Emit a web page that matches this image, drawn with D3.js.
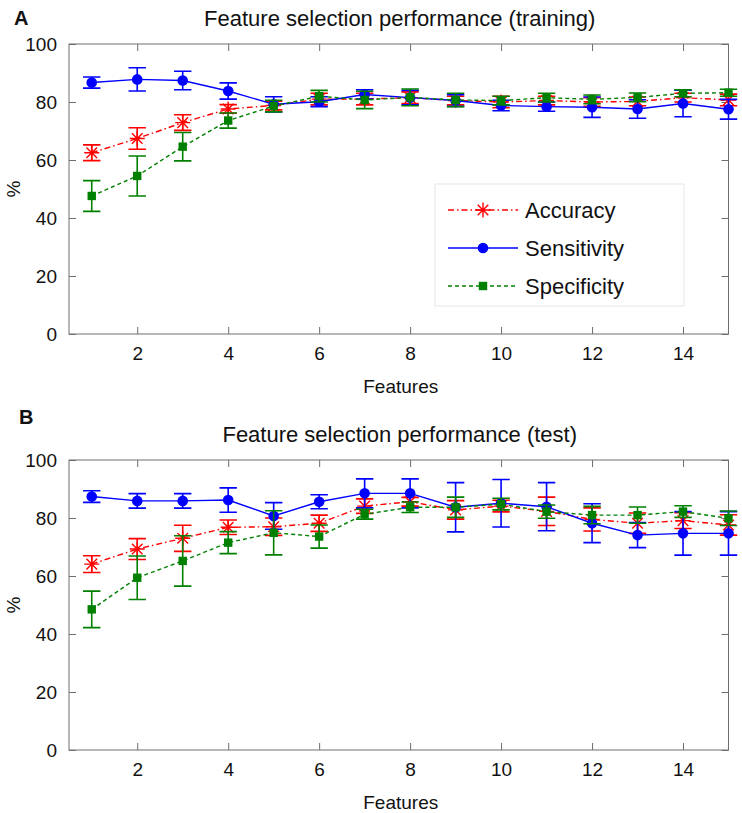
<!DOCTYPE html>
<html><head><meta charset="utf-8">
<script src="https://cdn.jsdelivr.net/npm/d3@7"></script>
<style>body{margin:0;background:#fff}svg{display:block;font-family:"Liberation Sans",Arial,sans-serif}</style>
</head><body><svg id="c" width="742" height="813"></svg>
<script>
const features = [1,2,3,4,5,6,7,8,9,10,11,12,13,14,15];
const xTicks = [2,4,6,8,10,12,14];
const yTicks = [0,20,40,60,80,100];
const seriesNames = ["Accuracy","Sensitivity","Specificity"];

const accA     = [62.5,67.4,72.9,77.6,78.8,81.0,81.0,81.5,80.5,80.0,80.5,80.0,80.2,81.5,80.7];
const accErrA  = [2.7,3.7,2.7,1.5,1.5,2.0,2.0,2.0,1.5,2.0,1.5,1.5,1.5,1.5,2.0];
const sensA    = [86.7,87.8,87.4,83.8,79.2,80.1,82.6,81.5,80.5,78.8,78.4,78.2,77.6,79.5,77.5];
const sensErrA = [1.9,4.0,3.2,2.8,2.6,1.7,1.6,2.5,2.0,1.8,1.6,3.5,3.2,4.6,3.4];
const specA    = [47.6,54.5,64.6,73.6,78.6,82.0,80.7,81.6,80.7,80.5,81.5,80.9,81.6,83.0,83.2];
const specErrA = [5.3,6.9,4.9,2.6,2.0,2.0,3.0,2.9,2.3,1.5,1.5,1.5,1.5,1.2,1.2];

const accB     = [64.1,69.3,73.0,76.8,77.0,78.2,84.1,85.6,82.8,84.1,82.3,79.5,78.2,79.1,77.6];
const accErrB  = [2.9,3.6,4.5,2.5,3.0,2.8,2.5,1.5,3.2,2.0,4.9,4.0,3.5,2.7,3.5];
const sensB    = [87.4,85.9,85.9,86.2,80.7,85.6,88.5,88.5,83.7,85.1,83.9,78.2,74.1,74.7,74.7];
const sensErrB = [2.0,2.5,2.5,4.2,4.6,2.4,5.0,5.0,8.5,8.2,8.3,6.7,4.3,7.5,7.5];
const specB    = [48.5,59.4,65.2,71.5,74.9,73.6,81.3,83.7,83.7,84.8,82.2,81.0,81.0,82.2,79.9];
const specErrB = [6.3,7.5,8.7,3.8,7.6,4.0,1.7,1.8,3.5,2.0,2.3,3.0,2.8,2.0,2.5];

const styles = {
  Accuracy:    {color:"#ff0000", dash:"6,3,1.5,3", marker:"star"},
  Sensitivity: {color:"#0000ff", dash:null, marker:"circle"},
  Specificity: {color:"#008000", dash:"4,3", marker:"square"}
};

const svg = d3.select("#c");
const x = d3.scaleLinear().domain([0.5,15]).range([69,728.5]);

function marker(g, type, cx, cy, color){
  if(type==="circle"){
    g.append("circle").attr("cx",cx).attr("cy",cy).attr("r",5.3).attr("fill",color);
  } else if(type==="square"){
    g.append("rect").attr("x",cx-4.2).attr("y",cy-4.2).attr("width",8.4).attr("height",8.4).attr("fill",color);
  } else {
    const r=7.5, d=r*0.707;
    const p = `M${cx-r},${cy}L${cx+r},${cy}M${cx},${cy-r}L${cx},${cy+r}M${cx-d},${cy-d}L${cx+d},${cy+d}M${cx-d},${cy+d}L${cx+d},${cy-d}`;
    g.append("path").attr("d",p).attr("stroke",color).attr("stroke-width",1.4).attr("fill","none");
  }
}

function panel(top, title, letter, letterPos, data){
  const y = d3.scaleLinear().domain([0,100]).range([top+290, top]);
  const g = svg.append("g");
  const axisColor = "#6e6e6e";
  g.append("rect").attr("x",x(0.5)).attr("y",y(100)).attr("width",x(15)-x(0.5)).attr("height",y(0)-y(100))
    .attr("fill","none").attr("stroke",axisColor).attr("stroke-width",1);
  const xb = g.append("g").attr("transform",`translate(0,${y(0)})`).call(d3.axisBottom(x).tickValues(xTicks).tickSizeInner(-7).tickSizeOuter(0).tickPadding(13));
  const xt = g.append("g").attr("transform",`translate(0,${y(100)})`).call(d3.axisTop(x).tickValues(xTicks).tickSizeInner(-7).tickSizeOuter(0).tickFormat(""));
  const yl = g.append("g").attr("transform",`translate(${x(0.5)},0)`).call(d3.axisLeft(y).tickValues(yTicks).tickSizeInner(-7).tickSizeOuter(0).tickPadding(12));
  const yr = g.append("g").attr("transform",`translate(${x(15)},0)`).call(d3.axisRight(y).tickValues(yTicks).tickSizeInner(-7).tickSizeOuter(0).tickFormat(""));
  [xb,xt,yl,yr].forEach(a=>{
    a.select(".domain").remove();
    a.selectAll("line").attr("stroke",axisColor);
    a.selectAll("text").attr("fill","#111").style("font-size","19px").style("font-family","'Liberation Sans',Arial,sans-serif");
  });
  g.append("text").attr("x",(x(0.5)+x(15))/2+2).attr("y",top+290+59).attr("text-anchor","middle")
    .style("font-size","19px").attr("fill","#111").text("Features");
  g.append("text").attr("transform",`translate(20,${top+145}) rotate(-90)`).attr("text-anchor","middle")
    .style("font-size","19px").attr("fill","#111").text("%");
  g.append("text").attr("x",(x(0.5)+x(15))/2+1).attr("y",top-18).attr("text-anchor","middle")
    .style("font-size","22px").attr("fill","#111").text(title);
  g.append("text").attr("x",letterPos[0]).attr("y",letterPos[1]).style("font-size","20px").style("font-weight","bold").attr("fill","#111").text(letter);

  data.forEach(s=>{
    const st = styles[s.name];
    const sg = g.append("g");
    const line = d3.line().x((d,i)=>x(features[i])).y(d=>y(d));
    sg.append("path").attr("d",line(s.values)).attr("fill","none").attr("stroke",st.color)
      .attr("stroke-width",1.4).attr("stroke-dasharray",st.dash);
    s.values.forEach((v,i)=>{
      const cx=x(features[i]), e=s.err[i], w=8.7;
      const y1=y(v+e), y2=y(v-e);
      sg.append("path").attr("d",`M${cx},${y1}L${cx},${y2}M${cx-w},${y1}L${cx+w},${y1}M${cx-w},${y2}L${cx+w},${y2}`)
        .attr("stroke",st.color).attr("stroke-width",1.6).attr("fill","none");
      marker(sg, st.marker, cx, y(v), st.color);
    });
  });
}

panel(44, "Feature selection performance (training)", "A", [14,25], [
  {name:"Accuracy", values:accA, err:accErrA},
  {name:"Sensitivity", values:sensA, err:sensErrA},
  {name:"Specificity", values:specA, err:specErrA}
]);
panel(460, "Feature selection performance (test)", "B", [19,424], [
  {name:"Accuracy", values:accB, err:accErrB},
  {name:"Sensitivity", values:sensB, err:sensErrB},
  {name:"Specificity", values:specB, err:specErrB}
]);

const lg = svg.append("g");
lg.append("rect").attr("x",435).attr("y",184).attr("width",249).attr("height",122)
  .attr("fill","#fff").attr("stroke","#e6e6e6").attr("stroke-width",1);
seriesNames.forEach((n,i)=>{
  const st=styles[n], yy=210+i*38;
  lg.append("line").attr("x1",448).attr("x2",518).attr("y1",yy).attr("y2",yy)
    .attr("stroke",st.color).attr("stroke-width",1.4).attr("stroke-dasharray",st.dash);
  marker(lg, st.marker, 483, yy, st.color);
  lg.append("text").attr("x",525).attr("y",yy+8).style("font-size","22px").attr("fill","#111").text(n);
});
</script></body></html>
